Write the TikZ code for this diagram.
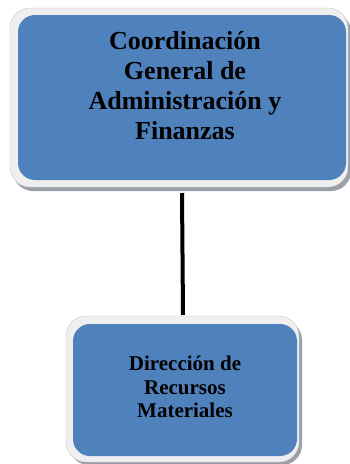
\documentclass[tikz,border=0pt]{standalone}
\usepackage{fontspec}
\setmainfont{Liberation Serif}
\definecolor{boxblue}{HTML}{4F81BD}
\definecolor{frame}{HTML}{EFEFEF}
\definecolor{shade}{HTML}{9A9FA8}
\begin{document}
\begin{tikzpicture}[x=1pt,y=-1pt,
  shadowbox/.style={fill=shade,rounded corners=20pt},
  framebox/.style={fill=frame,draw=frame!85!black,line width=0.4pt,rounded corners=20pt},
  bluebox/.style={fill=boxblue,rounded corners=17pt},
  lbl/.style={align=center,font=\bfseries,text=black,inner sep=0pt}]
\useasboundingbox (0,0) rectangle (350,464);
% top box
\fill[shadowbox] (13,12) rectangle (351,191);
\filldraw[framebox] (10,8) rectangle (348,187);
\fill[bluebox] (18,15) rectangle (346,180);
\node[lbl,font=\bfseries\fontsize{26}{30}\selectfont] (top) at (185,86) {Coordinación\\General de\\Administración y\\Finanzas};
% bottom box
\fill[shadowbox] (69,320) rectangle (302,465);
\filldraw[framebox] (66,316) rectangle (299,462);
\fill[bluebox] (73,324) rectangle (297,456);
\node[lbl,font=\bfseries\fontsize{21}{23.5}\selectfont] (bot) at (185,387) {Dirección de\\Recursos\\Materiales};
% connector
\coordinate (a) at (182,193);
\coordinate (b) at (183,315);
\draw[line width=4pt] (a) -- (b);
\end{tikzpicture}
\end{document}
